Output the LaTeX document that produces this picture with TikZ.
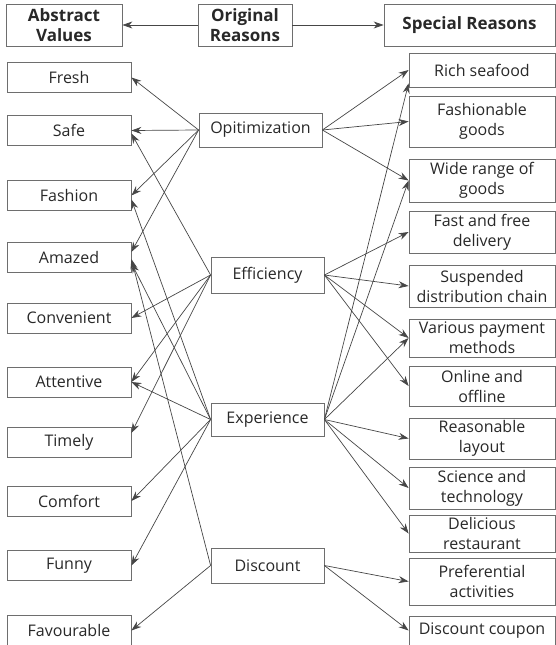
\documentclass[tikz,border=0pt]{standalone}
\usepackage{fontspec}
\setmainfont{Open Sans}
\usetikzlibrary{arrows.meta}

\definecolor{linegray}{RGB}{70,70,70}
\definecolor{boxgray}{RGB}{110,110,110}
\definecolor{txtgray}{RGB}{40,40,40}

\begin{document}
\begin{tikzpicture}[x=1pt,y=-1pt,->,>={Stealth[length=10pt,width=7pt]},
  every node/.style={font=\fontsize{16}{20}\selectfont, text=txtgray},
  box/.style={draw=boxgray, line width=0.8pt, align=center, inner sep=1pt},
  head/.style={box, font=\fontsize{17}{20}\selectfont\bfseries, minimum height=42pt},
  value/.style={box, minimum width=124pt, minimum height=30pt},
  origin/.style={box, minimum width=113pt, minimum height=#1},
  special/.style={box, minimum width=146pt, minimum height=#1},
  link/.style={draw=linegray, line width=0.7pt}]

  \useasboundingbox[-] (0,0) rectangle (556,645);

  % headings
  \node[head, minimum width=116pt] (abs)  at (64,25)    {Abstract\\Values};
  \node[head, minimum width=94pt]  (orig) at (245,25)   {Original\\Reasons};
  \node[head, minimum width=171pt] (spec) at (469.5,25) {Special Reasons};

  % abstract values
  \node[value] (fresh)      at (69,77.5)  {Fresh};
  \node[value] (safe)       at (69,130.5) {Safe};
  \node[value] (fashion)    at (69,195.5) {Fashion};
  \node[value] (amazed)     at (69,257)   {Amazed};
  \node[value] (convenient) at (69,318)   {Convenient};
  \node[value] (attentive)  at (69,382)   {Attentive};
  \node[value] (timely)     at (69,442)   {Timely};
  \node[value] (comfort)    at (69,501)   {Comfort};
  \node[value] (funny)      at (69,565.5) {Funny};
  \node[value] (favourable) at (69,630.5) {Favourable};

  % original reasons
  \node[origin=34pt, minimum width=123pt] (opt) at (260.5,130) {Opitimization};
  \node[origin=36pt] (eff)  at (267.5,275)   {Efficiency};
  \node[origin=33pt] (exp)  at (267.5,419.5) {Experience};
  \node[origin=35pt] (disc) at (267.5,565.5) {Discount};

  % special reasons
  \node[special=34pt] (rich)         at (482,70)    {Rich seafood};
  \node[special=51pt] (fashionable)  at (482,121.5) {Fashionable\\goods};
  \node[special=43pt] (wide)         at (482,180.5) {Wide range of\\goods};
  \node[special=42pt] (fast)         at (482,232)   {Fast and free\\delivery};
  \node[special=42pt] (suspended)    at (482,286)   {Suspended\\distribution chain};
  \node[special=38pt] (various)      at (482,338)   {Various payment\\methods};
  \node[special=40pt] (online)       at (482,386)   {Online and\\offline};
  \node[special=41pt] (reasonable)   at (482,438.5) {Reasonable\\layout};
  \node[special=42pt] (science)      at (482,488)   {Science and\\technology};
  \node[special=37pt] (delicious)    at (482,533.5) {Delicious\\restaurant};
  \node[special=47pt] (preferential) at (482,581.5) {Preferential\\activities};
  \node[special=29pt] (coupon)       at (482,630.5) {Discount coupon};

  \draw[link] (orig) -- (abs);
  \draw[link] (orig) -- (spec);

  % to the special reasons
  \foreach \t in {rich,fashionable,wide}
    \draw[link] (opt.east) -- (\t.west);
  \foreach \t in {fast,suspended,various,online}
    \draw[link] (eff.east) -- (\t.west);
  \foreach \t in {wide,various,reasonable,science,delicious}
    \draw[link] (exp.east) -- (\t.west);
  \draw[link] (exp.east) -- ([yshift=4pt]rich.south west);
  \foreach \t in {preferential,coupon}
    \draw[link] (disc.east) -- (\t.west);

  % to the abstract values
  \foreach \t in {fresh,safe,fashion}
    \draw[link] (opt.west) -- (\t.east);
  \draw[link] (opt.west) -- ([yshift=5pt]amazed.east);
  \draw[link] (eff.west) -- ([yshift=-3pt]safe.east);
  \draw[link] (eff.west) -- (convenient.east);
  \draw[link] (eff.west) -- (attentive.east);
  \draw[link] (eff.west) -- ([yshift=9pt]timely.east);
  \draw[link] (exp.west) -- ([yshift=-4pt]fashion.east);
  \draw[link] (exp.west) -- ([yshift=-6pt]amazed.east);
  \foreach \t in {attentive,comfort,funny}
    \draw[link] (exp.west) -- (\t.east);
  \draw[link] (disc.west) -- ([yshift=-2pt]amazed.east);
  \draw[link] (disc.west) -- (favourable.east);

\end{tikzpicture}
\end{document}
